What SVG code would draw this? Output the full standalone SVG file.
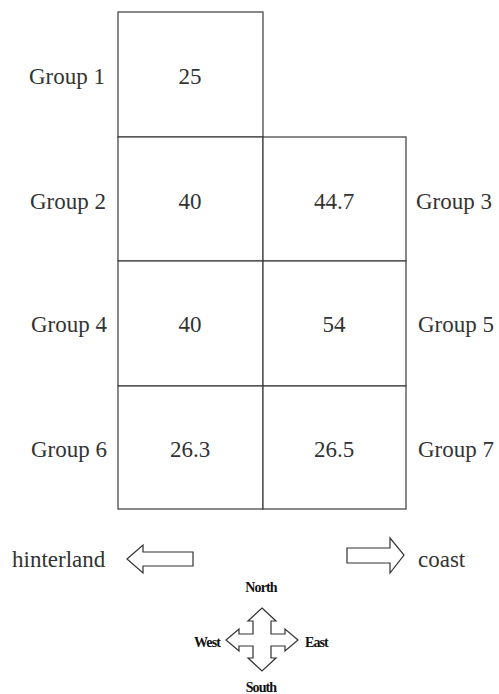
<svg xmlns="http://www.w3.org/2000/svg" width="499" height="694" viewBox="0 0 499 694">
<style>
.cell{fill:#fff;stroke:#3a3a3a;stroke-width:1.2}
.t{font-family:"Liberation Serif","Times New Roman",serif;font-size:23px;fill:#333}
.c{text-anchor:middle}
.e{text-anchor:end}
.cmp{font-family:"Liberation Serif","Times New Roman",serif;font-size:14px;font-weight:bold;fill:#111;letter-spacing:-0.9px}
.arr{fill:#fff;stroke:#333;stroke-width:1.2;stroke-linejoin:miter}
</style>
<rect width="499" height="694" fill="#fff"/>
<g id="group1"><rect class="cell" x="118" y="12" width="145" height="125"/><text class="t c" x="190" y="84">25</text><text class="t e" x="105" y="84">Group 1</text></g>
<g id="group2"><rect class="cell" x="118" y="137" width="145" height="124"/><text class="t c" x="190" y="209">40</text><text class="t e" x="106" y="209">Group 2</text></g>
<g id="group3"><rect class="cell" x="263" y="137" width="143" height="124"/><text class="t c" x="334" y="209">44.7</text><text class="t" x="416" y="209">Group 3</text></g>
<g id="group4"><rect class="cell" x="118" y="261" width="145" height="125"/><text class="t c" x="190" y="332">40</text><text class="t e" x="107" y="332">Group 4</text></g>
<g id="group5"><rect class="cell" x="263" y="261" width="143" height="125"/><text class="t c" x="334" y="332">54</text><text class="t" x="418" y="332">Group 5</text></g>
<g id="group6"><rect class="cell" x="118" y="386" width="145" height="123"/><text class="t c" x="190" y="457">26.3</text><text class="t e" x="107" y="457">Group 6</text></g>
<g id="group7"><rect class="cell" x="263" y="386" width="143" height="123"/><text class="t c" x="334" y="457">26.5</text><text class="t" x="418" y="457">Group 7</text></g>
<g id="connectors">
<path class="arr" d="M127,559 L143,545 L143,552 L193,552 L193,566 L143,566 L143,573 Z"/>
<path class="arr" d="M347,548 L390,548 L390,538 L404,555 L390,573 L390,563 L347,563 Z"/>
<path class="arr" d="M262,608 L276,621 L271,621 L271,634 L285,634 L285,629 L298,640 L285,651 L285,646 L271,646 L271,658 L276,658 L262,671 L248,658 L253,658 L253,646 L239,646 L239,651 L226,640 L239,629 L239,634 L253,634 L253,621 L248,621 Z"/>
</g>
<g id="hinterland"><text class="t" x="12" y="567">hinterland</text></g>
<g id="coast"><text class="t" x="418" y="567">coast</text></g>
<g id="compass">
<text class="cmp c" x="261" y="592">North</text>
<text class="cmp e" x="220" y="647">West</text>
<text class="cmp" x="305" y="647">East</text>
<text class="cmp c" x="261" y="692">South</text>
</g>
</svg>
